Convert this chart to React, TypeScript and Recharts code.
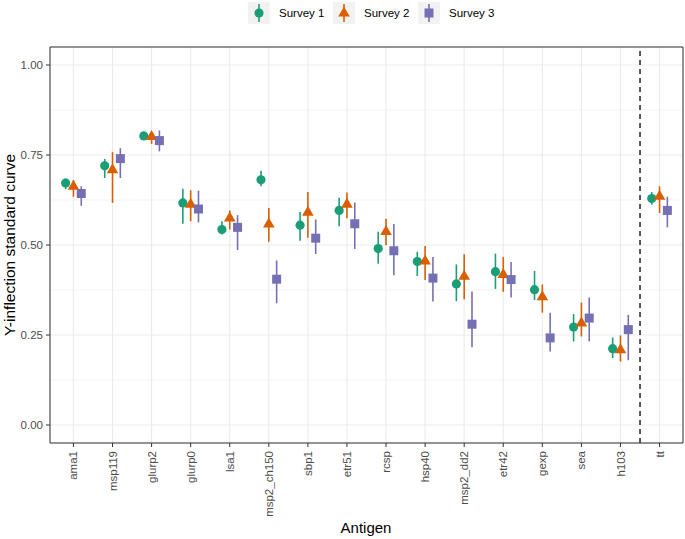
import React from 'react'
import {ScatterChart, Scatter, ErrorBar, XAxis, YAxis, CartesianGrid, ReferenceLine} from 'recharts'

const antigens = [
  'ama1', 'msp119', 'glurp2', 'glurp0', 'lsa1', 'msp2_ch150', 'sbp1', 'etr51',
  'rcsp', 'hsp40', 'msp2_dd2', 'etr42', 'gexp', 'sea', 'h103', 'tt'
]

// survey 1
const s1Mean = [0.672, 0.72, 0.803, 0.617, 0.543, 0.681, 0.555, 0.596, 0.49, 0.454, 0.392, 0.426, 0.376, 0.272, 0.212, 0.629]
const s1Low = [0.655, 0.686, 0.795, 0.559, 0.529, 0.663, 0.512, 0.552, 0.448, 0.414, 0.344, 0.378, 0.347, 0.232, 0.186, 0.612]
const s1High = [0.685, 0.739, 0.812, 0.656, 0.566, 0.706, 0.592, 0.631, 0.537, 0.481, 0.446, 0.476, 0.428, 0.308, 0.243, 0.647]

// survey 2
const s2Mean = [0.663, 0.709, 0.801, 0.613, 0.575, 0.558, 0.591, 0.613, 0.537, 0.455, 0.413, 0.418, 0.356, 0.283, 0.209, 0.635]
const s2Low = [0.634, 0.617, 0.781, 0.566, 0.543, 0.509, 0.52, 0.574, 0.499, 0.403, 0.349, 0.37, 0.312, 0.246, 0.176, 0.589]
const s2High = [0.68, 0.758, 0.813, 0.652, 0.596, 0.603, 0.647, 0.646, 0.573, 0.497, 0.474, 0.467, 0.39, 0.34, 0.249, 0.663]

// survey 3
const s3Mean = [0.643, 0.74, 0.79, 0.6, 0.549, 0.405, 0.519, 0.559, 0.484, 0.408, 0.28, 0.404, 0.242, 0.297, 0.265, 0.596]
const s3Low = [0.609, 0.686, 0.76, 0.563, 0.486, 0.338, 0.475, 0.489, 0.416, 0.343, 0.216, 0.354, 0.204, 0.232, 0.18, 0.549]
const s3High = [0.663, 0.769, 0.818, 0.651, 0.583, 0.457, 0.571, 0.618, 0.558, 0.467, 0.371, 0.453, 0.312, 0.354, 0.306, 0.634]

const yTicks = [0, 0.25, 0.5, 0.75, 1]
const yMinor = [0.125, 0.375, 0.625, 0.875]

const X_DOMAIN = [-0.6, 15.6]
const Y_DOMAIN = [-0.05, 1.05]

const COLORS = ['#1B9E77', '#D95F02', '#7570B3']
const FONT = '"Liberation Sans", Arial, sans-serif'

const buildRows = (mean: number[], low: number[], high: number[], dodge: number) =>
  antigens.map((name, i) => ({
    name,
    x: i + dodge,
    y: mean[i],
    err: [mean[i] - low[i], high[i] - mean[i]]
  }))

const survey1 = buildRows(s1Mean, s1Low, s1High, -0.2)
const survey2 = buildRows(s2Mean, s2Low, s2High, 0)
const survey3 = buildRows(s3Mean, s3Low, s3High, 0.2)

const Circle = (props: any) => <circle cx={props.cx} cy={props.cy} r={4.6} fill={COLORS[0]} />
const Triangle = (props: any) => {
  const {cx, cy} = props
  return <polygon points={`${cx},${cy - 6.6} ${cx + 5.8},${cy + 3.4} ${cx - 5.8},${cy + 3.4}`} fill={COLORS[1]} />
}
const Square = (props: any) => <rect x={props.cx - 4.5} y={props.cy - 4.5} width={9} height={9} fill={COLORS[2]} />

const XTick = (props: any) => {
  const {x, y, payload} = props
  return (
    <g transform={`translate(${x},${y})`}>
      <text transform='rotate(-90)' textAnchor='end' dy='0.35em' fontSize={11.5} fill='#4D4D4D' fontFamily={FONT}>
        {antigens[payload.value]}
      </text>
    </g>
  )
}

const LegendKey = ({x, i, label}: {x: number; i: number; label: string}) => {
  const cx = x + 11
  const cy = 13
  return (
    <g>
      <rect x={x} y={2} width={22} height={22} fill='#F2F2F2' />
      <line x1={cx} x2={cx} y1={4} y2={22} stroke={COLORS[i]} strokeWidth={1.6} />
      {i === 0 && <circle cx={cx} cy={cy} r={4.6} fill={COLORS[0]} />}
      {i === 1 && <polygon points={`${cx},${cy - 6.6} ${cx + 5.8},${cy + 3.4} ${cx - 5.8},${cy + 3.4}`} fill={COLORS[1]} />}
      {i === 2 && <rect x={cx - 4.5} y={cy - 4.5} width={9} height={9} fill={COLORS[2]} />}
      <text x={x + 31} y={cy} dy='0.35em' fontSize={11.5} fontFamily={FONT} fill='#000'>
        {label}
      </text>
    </g>
  )
}

export default function App() {
  return (
    <div style={{position: 'absolute', left: 0, top: 0, width: 685, height: 539, background: '#fff'}}>
      <ScatterChart width={685} height={539} margin={{top: 47, right: 2, bottom: 0, left: 0}}>
        <CartesianGrid horizontalValues={yMinor} vertical={false} stroke='#EBEBEB' strokeWidth={0.6} />
        <CartesianGrid stroke='#EBEBEB' strokeWidth={1.1} />
        <XAxis
          type='number'
          dataKey='x'
          domain={X_DOMAIN}
          ticks={antigens.map((_, i) => i)}
          interval={0}
          allowDataOverflow
          height={96}
          tickSize={4}
          tickMargin={4}
          tick={<XTick />}
          axisLine={{stroke: '#333'}}
          tickLine={{stroke: '#333'}}
        />
        <YAxis
          type='number'
          dataKey='y'
          domain={Y_DOMAIN}
          ticks={yTicks}
          allowDataOverflow
          width={50}
          tickSize={4}
          tickMargin={3}
          tickFormatter={(v: number) => v.toFixed(2)}
          tick={{fontSize: 11.5, fill: '#4D4D4D', fontFamily: FONT}}
          axisLine={{stroke: '#333'}}
          tickLine={{stroke: '#333'}}
        />
        {/* panel border: top and right */}
        <ReferenceLine y={Y_DOMAIN[1]} stroke='#333' strokeWidth={1} ifOverflow='visible' />
        <ReferenceLine x={X_DOMAIN[1]} stroke='#333' strokeWidth={1} ifOverflow='visible' />
        {/* separator between h103 and tt */}
        <ReferenceLine x={14.5} stroke='#000' strokeWidth={1.3} strokeDasharray='5 4' />
        <Scatter data={survey1} shape={Circle} isAnimationActive={false}>
          <ErrorBar dataKey='err' direction='y' width={0} stroke={COLORS[0]} strokeWidth={1.6} />
        </Scatter>
        <Scatter data={survey2} shape={Triangle} isAnimationActive={false}>
          <ErrorBar dataKey='err' direction='y' width={0} stroke={COLORS[1]} strokeWidth={1.6} />
        </Scatter>
        <Scatter data={survey3} shape={Square} isAnimationActive={false}>
          <ErrorBar dataKey='err' direction='y' width={0} stroke={COLORS[2]} strokeWidth={1.6} />
        </Scatter>
      </ScatterChart>

      <svg width={685} height={539} style={{position: 'absolute', left: 0, top: 0, pointerEvents: 'none'}}>
        <LegendKey x={248} i={0} label='Survey 1' />
        <LegendKey x={333} i={1} label='Survey 2' />
        <LegendKey x={418} i={2} label='Survey 3' />
        <text transform='translate(15,245) rotate(-90)' textAnchor='middle' fontSize={15.5} fontFamily={FONT} fill='#000'>
          Y-inflection standard curve
        </text>
        <text x={366} y={533} textAnchor='middle' fontSize={15} fontFamily={FONT} fill='#000'>
          Antigen
        </text>
      </svg>
    </div>
  )
}
